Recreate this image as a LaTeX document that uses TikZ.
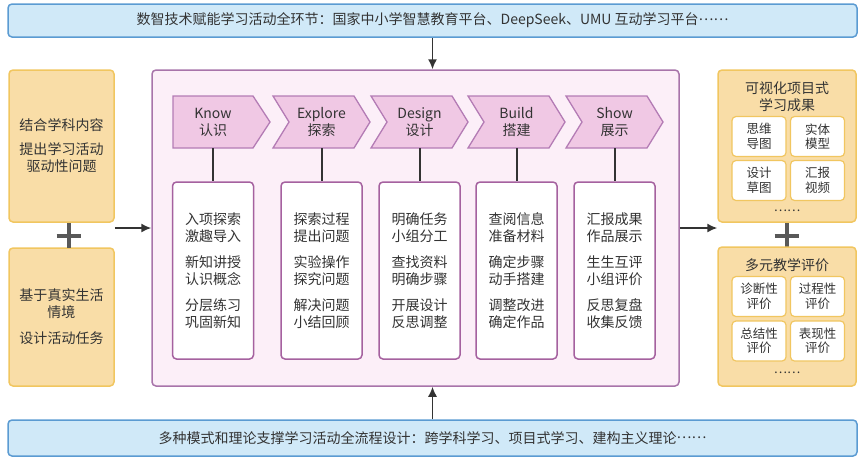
\documentclass[tikz,border=0pt]{standalone}
\usepackage{fontspec}
\setmainfont{Noto Sans CJK SC}
\usetikzlibrary{shapes.misc, arrows.meta}
\definecolor{barfill}{HTML}{D0E9F8}
\definecolor{barline}{HTML}{5B9BD2}
\definecolor{sidefill}{HTML}{F9DDA7}
\definecolor{sideline}{HTML}{F1C660}
\definecolor{framefill}{HTML}{FCEFF8}
\definecolor{frameline}{HTML}{A874AA}
\definecolor{chevfill}{HTML}{F0C8E4}
\definecolor{chevline}{HTML}{B47CB5}
\definecolor{listline}{HTML}{A5619F}
\definecolor{inkgray}{HTML}{333333}
\definecolor{plusgray}{HTML}{595959}
\newcommand{\middots}{\raisebox{.33em}{……}}
\tikzset{
  bar/.style={draw=barline, fill=barfill, line width=1.5pt, rounded corners=4pt,
    minimum width=849pt, inner sep=0pt},
  sidebox/.style={draw=sideline, fill=sidefill, line width=1.5pt, rounded corners=4pt,
    minimum width=105pt, align=center, inner sep=0pt},
  frame/.style={draw=frameline, fill=framefill, line width=1.5pt, rounded corners=4pt,
    minimum width=527pt, minimum height=316pt},
  chev/.style={draw=chevline, fill=chevfill, line width=1.3pt},
  chevtext/.style={minimum height=52pt, inner sep=0pt, align=center},
  listbox/.style={draw=listline, fill=white, line width=1.5pt, rounded corners=4pt,
    minimum width=81pt, minimum height=177pt, align=center, inner sep=0pt},
  resbox/.style={draw=sideline, fill=white, line width=1.2pt, rounded corners=4pt,
    minimum width=54pt, minimum height=40pt, align=center, inner sep=0pt,
    font=\fontsize{12.5}{14.5}\selectfont},
  plussign/.style={draw=plusgray, cross out, rotate=45, minimum size=13.5pt,
    line width=4pt, inner sep=0pt},
  link/.style={draw=inkgray, line width=2pt},
}
\begin{document}
\begin{tikzpicture}[x=1pt, y=-1pt, font=\fontsize{14}{17}\selectfont, text=inkgray]
\useasboundingbox (0,0) rectangle (861,459);

% top and bottom bars
\node[bar, minimum height=33pt] (topbar) at (432.5,20.5) {数智技术赋能学习活动全环节：国家中小学智慧教育平台、DeepSeek、UMU 互动学习平台\middots};
\node[bar, minimum height=36pt] (botbar) at (432.5,438) {多种模式和理论支撑学习活动全流程设计：跨学科学习、项目式学习、建构主义理论\middots};

% left side
\node[sidebox, minimum height=152pt] (lefttop) at (61.5,146) {结合学科内容\\[7pt]提出学习活动\\驱动性问题};
\node[sidebox, minimum height=138pt] (leftbot) at (61.5,317) {基于真实生活\\情境\\[9pt]设计活动任务};
\node[plussign] (plusl) at (69,235.5) {};

% main frame
\node[frame] (frame) at (415.5,228) {};

% chevrons
\draw[chev] (173,96) -- (253,96) -- (270,122) -- (253,148) -- (173,148) -- cycle;
\draw[chev] (273,96) -- (354,96) -- (370,122) -- (354,148) -- (273,148) -- (289,122) -- cycle;
\draw[chev] (371,96) -- (452,96) -- (468,122) -- (452,148) -- (371,148) -- (387,122) -- cycle;
\draw[chev] (468,96) -- (549,96) -- (565,122) -- (549,148) -- (468,148) -- (484,122) -- cycle;
\draw[chev] (566,96) -- (647,96) -- (663,122) -- (647,148) -- (566,148) -- (582,122) -- cycle;
\node[chevtext] (know) at (213,122) {Know\\认识};
\node[chevtext] (explore) at (321.5,122) {Explore\\探索};
\node[chevtext] (design) at (419.5,122) {Design\\设计};
\node[chevtext] (build) at (516.5,122) {Build\\搭建};
\node[chevtext] (show) at (614.5,122) {Show\\展示};

% activity lists
\node[listbox] (knowlist) at (213,270.5) {入项探索\\激趣导入\\[9pt]新知讲授\\认识概念\\[9pt]分层练习\\巩固新知};
\node[listbox] (explorelist) at (321.5,270.5) {探索过程\\提出问题\\[9pt]实验操作\\探究问题\\[9pt]解决问题\\小结回顾};
\node[listbox] (designlist) at (419.5,270.5) {明确任务\\小组分工\\[9pt]查找资料\\明确步骤\\[9pt]开展设计\\反思调整};
\node[listbox] (buildlist) at (516.5,270.5) {查阅信息\\准备材料\\[9pt]确定步骤\\动手搭建\\[9pt]调整改进\\确定作品};
\node[listbox] (showlist) at (614.5,270.5) {汇报成果\\作品展示\\[9pt]生生互评\\小组评价\\[9pt]反思复盘\\收集反馈};
\draw[link] (know.south) -- (know.south |- knowlist.north);
\draw[link] (explore.south) -- (explore.south |- explorelist.north);
\draw[link] (design.south) -- (design.south |- designlist.north);
\draw[link] (build.south) -- (build.south |- buildlist.north);
\draw[link] (show.south) -- (show.south |- showlist.north);

% right side
\node[sidebox, minimum width=138pt, minimum height=152pt] (righttop) at (787,146) {};
\node[align=center, inner sep=0pt] (rttitle) at (787,96.5) {可视化项目式\\学习成果};
\node[resbox] (mindmap) at (759,136.5) {思维\\导图};
\node[resbox] (model) at (817.5,136.5) {实体\\模型};
\node[resbox] (sketch) at (759,180.5) {设计\\草图};
\node[resbox] (video) at (817.5,180.5) {汇报\\视频};
\node[inner sep=0pt, font=\fontsize{12.5}{14}\selectfont] (rtdots) at (787,211) {……};
\node[plussign] (plusr) at (787,235.5) {};
\node[sidebox, minimum width=138pt, minimum height=139pt] (rightbot) at (787,316.5) {};
\node[inner sep=0pt] (rbtitle) at (787,265) {多元教学评价};
\node[resbox] (diag) at (759,296.5) {诊断性\\评价};
\node[resbox] (proc) at (817.5,296.5) {过程性\\评价};
\node[resbox] (summ) at (759,341) {总结性\\评价};
\node[resbox] (perf) at (817.5,341) {表现性\\评价};
\node[inner sep=0pt, font=\fontsize{12.5}{14}\selectfont] (rbdots) at (787,373) {……};

% arrows
\draw[->, >={Latex[length=10pt, width=9pt]}, draw=inkgray, line width=1.5pt] (topbar.south) -- (topbar.south |- frame.north);
\draw[->, >={Latex[length=10pt, width=9pt]}, draw=inkgray, line width=1.5pt] (botbar.north) -- (botbar.north |- frame.south);
\draw[->, >={Latex[length=10pt, width=9pt]}, draw=inkgray, line width=1.5pt] (frame.west -| lefttop.east) -- (frame.west);
\draw[->, >={Latex[length=10pt, width=9pt]}, draw=inkgray, line width=1.5pt] (frame.east) -- (frame.east -| righttop.west);
\end{tikzpicture}
\end{document}
